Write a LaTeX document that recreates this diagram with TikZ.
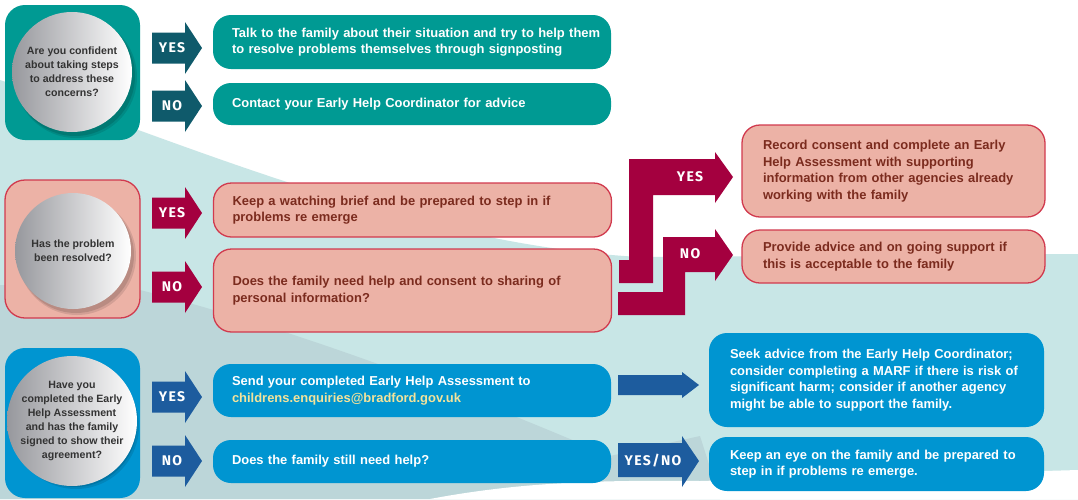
\documentclass[tikz,border=0pt]{standalone}
\usepackage{fontspec}
\setmainfont{Liberation Sans}
\newfontfamily\arrfont[LetterSpace=10]{Fira Sans}
\definecolor{teal1}{HTML}{009A93}
\definecolor{tealarr}{HTML}{0F5A6B}
\definecolor{pinkfill}{HTML}{ECB2A6}
\definecolor{pinkline}{HTML}{D13A4E}
\definecolor{pinktext}{HTML}{7B2B1E}
\definecolor{crimson}{HTML}{A4003F}
\definecolor{blue1}{HTML}{0095D1}
\definecolor{bluearr}{HTML}{1D5C9E}
\definecolor{bgteal}{HTML}{C8E6E6}
\definecolor{bggray}{HTML}{BCD6D9}
\definecolor{mailc}{HTML}{F3E39C}
\definecolor{circtext}{HTML}{333333}
\definecolor{circdark}{HTML}{97989D}
\newcommand\leftarrowshape[3]{%
  \fill[#2] (152,#1-15.5) -- (185,#1-15.5) -- (185,#1-26) -- (202,#1) -- (185,#1+26) -- (185,#1+15.5) -- (152,#1+15.5) -- cycle;
  \node[arrlbl] at (172,#1) {#3};}
\newcommand\qcirc[5]{%
  \fill[black,opacity=0.10] (#2+4,#3+5) circle (#4+1);
  \fill[black,opacity=0.12] (#2+3,#3+4) circle (#4);
  \node[qcircle, minimum size=2*#4] (#1) at (#2,#3) {#5};}
\begin{document}
\begin{tikzpicture}[x=1pt,y=-1pt,
  tbox/.style={rounded corners=18pt, inner xsep=19pt, inner ysep=0pt, align=left,
    font=\bfseries\fontsize{12.95}{16.6}\selectfont, anchor=center},
  wbox/.style={tbox, fill=#1, text=white},
  pbox/.style={tbox, fill=pinkfill, draw=pinkline, line width=1.3pt, text=pinktext},
  secbox/.style={rounded corners=20pt},
  arrlbl/.style={text=white, font=\arrfont\bfseries\fontsize{14}{14}\selectfont, inner sep=0pt},
  qcircle/.style={circle, inner sep=0pt, left color=circdark, right color=white,
    align=center, text=circtext, font=\bfseries\fontsize{10.6}{13.9}\selectfont}
]
\useasboundingbox (0,0) rectangle (1078,499);
% background
\fill[white] (0,0) rectangle (1078,499);
\fill[bgteal] (0,80) .. controls (200,150) and (420,245) .. (640,257) -- (1078,254) -- (1078,499) -- (0,499) -- cycle;
\fill[bggray] (0,285) -- (140,290) .. controls (300,330) and (480,400) .. (610,456) -- (700,436) -- (720,499) -- (0,499) -- cycle;
\fill[white] (430,499) .. controls (520,482) and (600,480) .. (700,481) -- (1078,470) -- (1078,499) -- cycle;

% ===== section 1 =====
\fill[teal1, secbox] (5,5) rectangle (140,140);
\qcirc{q1}{72}{72}{60}{Are you confident\\about taking steps\\to address these\\concerns?}
\leftarrowshape{48}{tealarr}{YES}
\leftarrowshape{106}{tealarr}{NO}
\node[wbox=teal1, text width=360pt, minimum height=54pt] (a1) at (412,42)
  {\mbox{Talk to the family about their situation and try to help them}\\to resolve problems themselves through signposting};
\node[wbox=teal1, text width=360pt, minimum height=42pt] (a2) at (412,104)
  {Contact your Early Help Coordinator for advice};

% ===== section 2 =====
\filldraw[fill=pinkfill, draw=pinkline, line width=1.3pt, secbox] (5,180) rectangle (140,318);
\qcirc{q2}{73}{251}{58}{Has the problem\\been resolved?}
\leftarrowshape{213}{crimson}{YES}
\leftarrowshape{287}{crimson}{NO}
\node[pbox, text width=360pt, minimum height=54pt] (b1) at (412.5,210)
  {Keep a watching brief and be prepared to step in if\\problems re emerge};
\node[pbox, text width=360pt, minimum height=83pt] (b2) at (412.5,290.5)
  {Does the family need help and consent to sharing of\\personal information?};
% bent arrows
\fill[crimson] (619,260) -- (629,260) -- (629,159) -- (715,159) -- (715,152) -- (733,177)
  -- (715,203) -- (715,195) -- (653,195) -- (653,283) -- (619,283) -- cycle;
\fill[crimson] (618,292) -- (663,292) -- (663,237) -- (715,237) -- (715,229) -- (733,255)
  -- (715,281) -- (715,272) -- (685,272) -- (685,315) -- (618,315) -- cycle;
\node[arrlbl] at (690,177) {YES};
\node[arrlbl] at (690,254) {NO};
\node[pbox, inner xsep=21pt, text width=261pt, minimum height=92pt] (b3) at (893.5,171)
  {Record consent and complete an Early\\Help Assessment with supporting\\\mbox{information from other agencies already}\\working with the family};
\node[pbox, inner xsep=21pt, text width=261pt, minimum height=53pt] (b4) at (893.5,256.5)
  {Provide advice and on going support if\\this is acceptable to the family};

% ===== section 3 =====
\fill[blue1, secbox] (5,348) rectangle (140,498);
\qcirc{q3}{72}{421}{62}{Have you\\completed the Early\\Help Assessment\\and has the family\\signed to show their\\agreement?}
\leftarrowshape{397}{bluearr}{YES}
\leftarrowshape{461}{bluearr}{NO}
\node[wbox=blue1, text width=360pt, minimum height=53pt] (c1) at (412,390.5)
  {Send your completed Early Help Assessment to\\\textcolor{mailc}{childrens.enquiries@bradford.gov.uk}};
\node[wbox=blue1, text width=360pt, minimum height=43pt] (c2) at (412,461.5)
  {Does the family still need help?};
\fill[bluearr] (618,375) -- (682,375) -- (682,372) -- (699,385) -- (682,398) -- (682,395) -- (618,395) -- cycle;
\fill[bluearr] (618,443) -- (682,443) -- (682,436) -- (699,461) -- (682,487) -- (682,477) -- (618,477) -- cycle;
\node[arrlbl] at (653,461) {YES/NO};
\node[wbox=blue1, inner xsep=21pt, text width=293pt, minimum height=94pt] (c3) at (876.5,380)
  {Seek advice from the Early Help Coordinator;\\\mbox{consider completing a MARF if there is risk of}\\significant harm; consider if another agency\\might be able to support the family.};
\node[wbox=blue1, inner xsep=21pt, text width=293pt, minimum height=54pt] (c4) at (876.5,464)
  {Keep an eye on the family and be prepared to\\step in if problems re emerge.};
\end{tikzpicture}
\end{document}
